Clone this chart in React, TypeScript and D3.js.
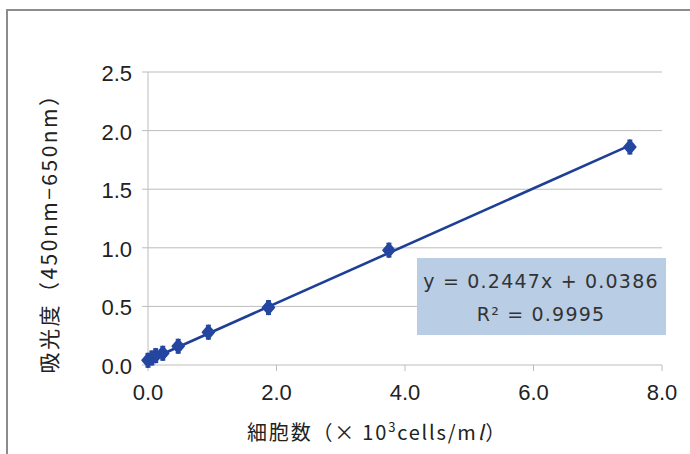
import React from "react";
import * as d3 from "d3";

const cellCounts = [0, 0.06, 0.12, 0.23, 0.47, 0.94, 1.875, 3.75, 7.5];
const absorbance = [0.04, 0.06, 0.08, 0.1, 0.16, 0.28, 0.49, 0.98, 1.86];
const xTicks = [0, 2, 4, 6, 8];
const yTicks = [0, 0.5, 1.0, 1.5, 2.0, 2.5];
const slope = 0.2447;
const intercept = 0.0386;
const eqText = "y = 0.2447x + 0.0386";
const r2Value = "0.9995";

const W = 690;
const H = 454;

export default function App() {
  const x = d3.scaleLinear().domain([0, 8]).range([148, 662]);
  const y = d3.scaleLinear().domain([0, 2.5]).range([365, 72]);
  const blue = "#2446a0";
  const lineBlue = "#1e3f96";
  const fontNum = "'Liberation Sans', Arial, sans-serif";
  const fontJa = "'Noto Sans CJK JP', 'Noto Sans', sans-serif";
  const fitLine = d3.line<number>().x((d) => x(d)).y((d) => y(slope * d + intercept));
  const dia = "M0,-7L6,0L0,7L-6,0Z";

  return (
    <div style={{ position: "absolute", left: 0, top: 0 }}>
      <svg width={W} height={H} style={{ display: "block", background: "#fff" }}>
        {/* frame */}
        <line x1={7} y1={10} x2={7} y2={H} stroke="#8c8c8c" strokeWidth={2} />
        <line x1={6} y1={10} x2={W} y2={10} stroke="#8c8c8c" strokeWidth={2} />

        {/* gridlines */}
        {yTicks.map((t) => (
          <g key={"g" + t}>
            <line x1={x(0) - 6} x2={x(8)} y1={y(t)} y2={y(t)} stroke="#bdbdbd" strokeWidth={1} />
            <text
              x={132}
              y={y(t) + 9}
              textAnchor="end"
              fontFamily={fontNum}
              fontSize={22}
              fill="#222"
            >
              {t.toFixed(1)}
            </text>
          </g>
        ))}
        <line x1={x(0)} x2={x(0)} y1={y(2.5)} y2={y(0)} stroke="#bdbdbd" strokeWidth={1} />
        {xTicks.map((t) => (
          <g key={"x" + t}>
            <line x1={x(t)} x2={x(t)} y1={y(0)} y2={y(0) + 6} stroke="#bdbdbd" strokeWidth={1} />
            <text
              x={x(t)}
              y={400}
              textAnchor="middle"
              fontFamily={fontNum}
              fontSize={22}
              fill="#222"
            >
              {t.toFixed(1)}
            </text>
          </g>
        ))}

        {/* fit line */}
        <path d={fitLine([0, 7.5]) || ""} fill="none" stroke={lineBlue} strokeWidth={2.6} />

        {/* points */}
        {cellCounts.map((c, i) => (
          <g key={"p" + i} transform={`translate(${x(c)},${y(absorbance[i])})`}>
            <line x1={-2.5} x2={2.5} y1={-6.5} y2={-6.5} stroke={blue} strokeWidth={2} />
            <line x1={-2.5} x2={2.5} y1={6.5} y2={6.5} stroke={blue} strokeWidth={2} />
            <path d={dia} fill={blue} stroke={blue} strokeWidth={1.5} strokeLinejoin="round" />
          </g>
        ))}

        {/* equation box */}
        <rect x={417} y={258} width={249} height={77} fill="#b9cde5" />
        <text
          x={541}
          y={288}
          textAnchor="middle"
          fontFamily="'DejaVu Sans', Verdana, sans-serif"
          fontSize={19}
          letterSpacing={1.2}
          fill="#333"
        >
          {eqText}
        </text>
        <text
          x={541}
          y={321}
          textAnchor="middle"
          fontFamily="'DejaVu Sans', Verdana, sans-serif"
          fontSize={19}
          letterSpacing={1.2}
          fill="#333"
        >
          R² = {r2Value}
        </text>

        {/* y title */}
        <text
          transform={`translate(57,${228}) rotate(-90)`}
          textAnchor="middle"
          fontFamily={fontJa}
          fontSize={21}
          letterSpacing={2.5}
          fill="#222"
        >
          吸光度（450nm−650nm）
        </text>

        {/* x title */}
        <text
          x={377}
          y={440}
          textAnchor="middle"
          fontFamily={fontJa}
          fontSize={20}
          letterSpacing={1.8}
          fill="#222"
        >
          細胞数（× 10
          <tspan dy={-8} fontSize={13}>3</tspan>
          <tspan dy={8}>cells/m</tspan>
          <tspan fontStyle="italic">l</tspan>）
        </text>
      </svg>
    </div>
  );
}
